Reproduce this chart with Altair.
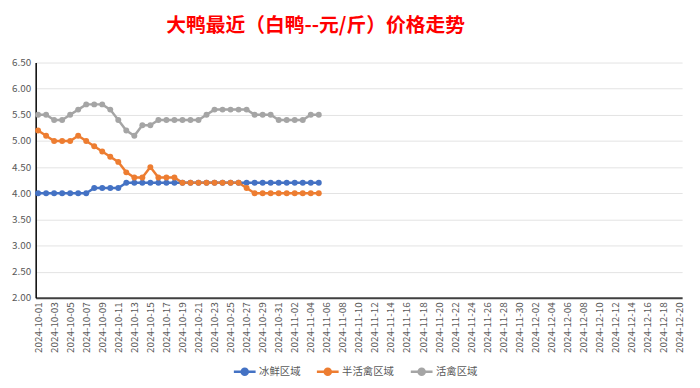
import altair as alt
import pandas as pd

# category axis: every day from 2024-10-01 to 2024-12-20
all_dates = pd.date_range("2024-10-01", "2024-12-20").strftime("%Y-%m-%d").tolist()
label_dates = all_dates[::2]

series_names = ["冰鲜区域", "半活禽区域", "活禽区域"]
series_colors = ["#4472C4", "#ED7D31", "#A5A5A5"]

bingxian = [4.0, 4.0, 4.0, 4.0, 4.0, 4.0, 4.0, 4.1, 4.1, 4.1, 4.1, 4.2,
            4.2, 4.2, 4.2, 4.2, 4.2, 4.2, 4.2, 4.2, 4.2, 4.2, 4.2, 4.2,
            4.2, 4.2, 4.2, 4.2, 4.2, 4.2, 4.2, 4.2, 4.2, 4.2, 4.2, 4.2]
banhuoqin = [5.2, 5.1, 5.0, 5.0, 5.0, 5.1, 5.0, 4.9, 4.8, 4.7, 4.6, 4.4,
             4.3, 4.3, 4.5, 4.3, 4.3, 4.3, 4.2, 4.2, 4.2, 4.2, 4.2, 4.2,
             4.2, 4.2, 4.1, 4.0, 4.0, 4.0, 4.0, 4.0, 4.0, 4.0, 4.0, 4.0]
huoqin = [5.5, 5.5, 5.4, 5.4, 5.5, 5.6, 5.7, 5.7, 5.7, 5.6, 5.4, 5.2,
          5.1, 5.3, 5.3, 5.4, 5.4, 5.4, 5.4, 5.4, 5.4, 5.5, 5.6, 5.6,
          5.6, 5.6, 5.6, 5.5, 5.5, 5.5, 5.4, 5.4, 5.4, 5.4, 5.5, 5.5]

y_ticks = [2.0, 2.5, 3.0, 3.5, 4.0, 4.5, 5.0, 5.5, 6.0, 6.5]

rows = []
for name, vals in zip(series_names, [bingxian, banhuoqin, huoqin]):
    for d, v in zip(all_dates, vals):
        rows.append({"date": d, "value": v, "series": name})
df = pd.DataFrame(rows)

FONT = "Noto Sans CJK SC"
sym_path = "M-1,0L1,0M0.28,0A0.28,0.28,0,1,1,-0.28,0A0.28,0.28,0,1,1,0.28,0Z"

x_enc = alt.X("date:O",
              scale=alt.Scale(domain=all_dates, type="point", padding=0.3),
              axis=alt.Axis(values=label_dates, labelAngle=-90, title=None,
                            ticks=False, labelFontSize=10, labelColor="#595959",
                            labelFont=FONT, domainColor="#404040", domainWidth=2,
                            labelPadding=4, grid=False))
y_enc = alt.Y("value:Q",
              scale=alt.Scale(domain=[2, 6.5], nice=False, zero=False),
              axis=alt.Axis(values=y_ticks, format=".2f", title=None, ticks=False,
                            labelFontSize=10, labelColor="#595959", labelFont=FONT,
                            domainColor="#000000", domainWidth=1.5, gridColor="#E3E3E3",
                            labelPadding=5))
color_enc = alt.Color("series:N",
                      scale=alt.Scale(domain=series_names, range=series_colors),
                      sort=series_names,
                      legend=alt.Legend(orient="none", direction="horizontal",
                                        legendX=199, legendY=300, title=None,
                                        symbolType=sym_path, symbolSize=484,
                                        symbolStrokeWidth=2.5, labelFont=FONT,
                                        labelFontSize=10.5, labelColor="#595959",
                                        columnPadding=11, labelOffset=2))

base = alt.Chart(df).encode(x=x_enc, y=y_enc, color=color_enc)
lines = base.mark_line(strokeWidth=2.5)
points = base.mark_point(filled=True, size=36, opacity=1)

chart = alt.layer(lines, points).properties(
    width=654, height=238,
    padding={"left": 28, "top": 53, "right": 10, "bottom": 85},
    autosize=alt.AutoSizeParams(type="none"),
    background="white",
    title=alt.TitleParams(
        "大鸭最近（白鸭--元/斤）价格走势", font=FONT, fontSize=20,
        fontWeight="bold", color="#FF0000", anchor="start", frame="group",
        dx=132, offset=22),
).configure_view(stroke=None)

chart.save("out.html", embed_options={"renderer": "svg", "actions": False})
